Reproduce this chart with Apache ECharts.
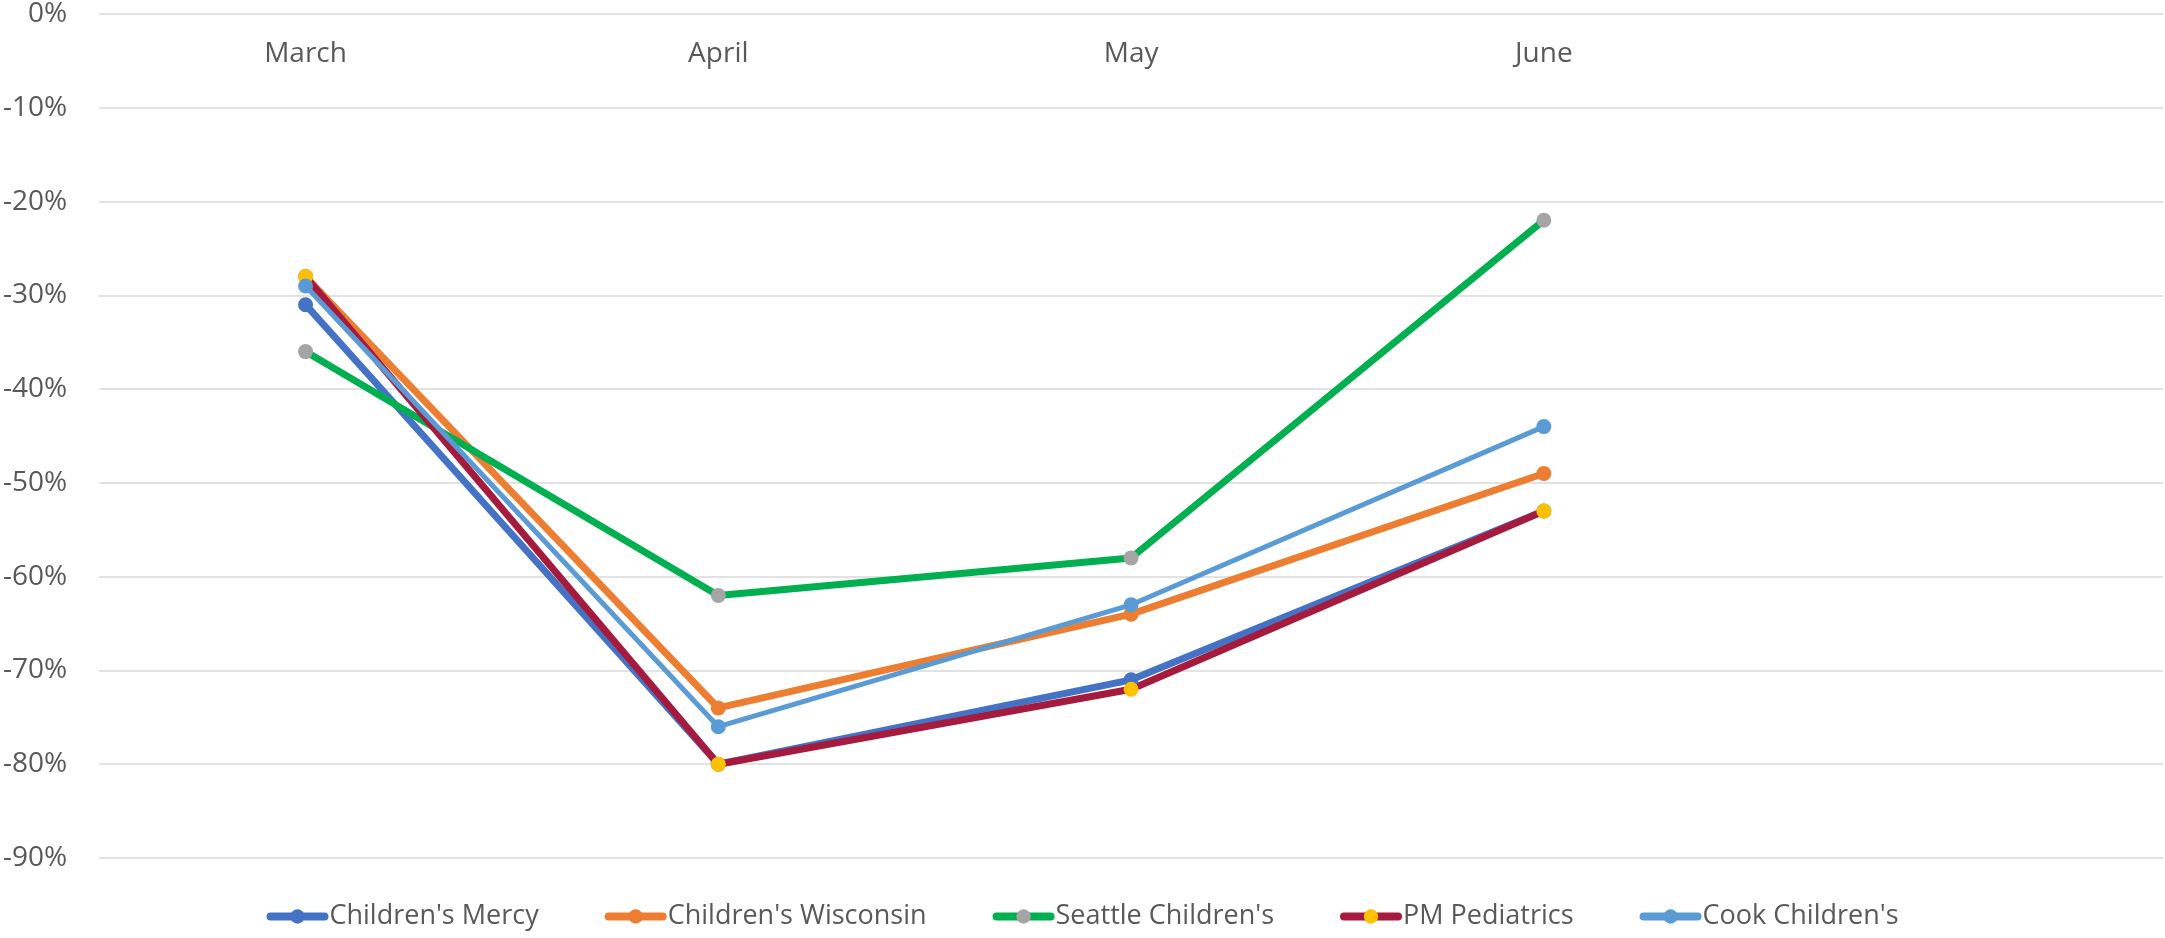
<!DOCTYPE html>
<html>
<head>
<meta charset="utf-8">
<title>Monthly change</title>
<script src="https://cdn.jsdelivr.net/npm/echarts@6/dist/echarts.min.js"></script>
<style>
  html, body { margin: 0; padding: 0; background: #fff; }
  #chart { width: 2165px; height: 938px; }
</style>
</head>
<body>
<div id="chart"></div>
<script>
// 月份（最后一格留空）
const months = ['March', 'April', 'May', 'June', ''];

// 各医院数据（%）
const childrensMercy = [-31, -80, -71, -53];
const childrensWisconsin = [-28, -74, -64, -49];
const seattleChildrens = [-36, -62, -58, -22];
const pmPediatrics = [-28, -80, -72, -53];
const cookChildrens = [-29, -76, -63, -44];

// y轴刻度
const yMin = -90;
const yMax = 0;
const yStep = 10;

const font = 'Open Sans';
const textColor = '#595959';

// 生成单条折线
function makeLine(name, data, lineColor, dotColor, width) {
  return {
    name: name,
    type: 'line',
    data: data,
    symbol: 'circle',
    symbolSize: 15,
    showSymbol: true,
    lineStyle: { color: lineColor, width: width, cap: 'round', join: 'round' },
    itemStyle: { color: dotColor },
    emphasis: { disabled: true }
  };
}

const chart = echarts.init(document.getElementById('chart'));

chart.setOption({
  animation: false,
  grid: { left: 97, right: 2, top: 14, bottom: 80 },
  legend: {
    left: 'center',
    top: 898,
    itemWidth: 54,
    itemHeight: 18,
    itemGap: 66,
    lineStyle: { width: 8, cap: 'round' },
    textStyle: { fontFamily: font, fontSize: 27, color: textColor }
  },
  xAxis: {
    type: 'category',
    position: 'top',
    data: months,
    boundaryGap: true,
    axisLine: { show: false },
    axisTick: { show: false },
    axisLabel: {
      inside: true,
      margin: 26,
      fontFamily: font,
      fontSize: 28,
      color: textColor
    }
  },
  yAxis: {
    type: 'value',
    min: yMin,
    max: yMax,
    interval: yStep,
    axisLine: { show: false },
    axisTick: { show: false },
    axisLabel: {
      margin: 32,
      fontFamily: font,
      fontSize: 28,
      color: textColor,
      formatter: v => v + '%'
    },
    splitLine: { lineStyle: { color: '#D9D9D9', width: 1.5 } }
  },
  series: [
    makeLine("Children's Mercy", childrensMercy, '#4472C4', '#4472C4', 7),
    makeLine("Children's Wisconsin", childrensWisconsin, '#ED7D31', '#ED7D31', 7),
    makeLine("Seattle Children's", seattleChildrens, '#00B050', '#A5A5A5', 7),
    makeLine('PM Pediatrics', pmPediatrics, '#A51A3D', '#FFC000', 7),
    makeLine("Cook Children's", cookChildrens, '#5B9BD5', '#5B9BD5', 5)
  ]
});
</script>
</body>
</html>
